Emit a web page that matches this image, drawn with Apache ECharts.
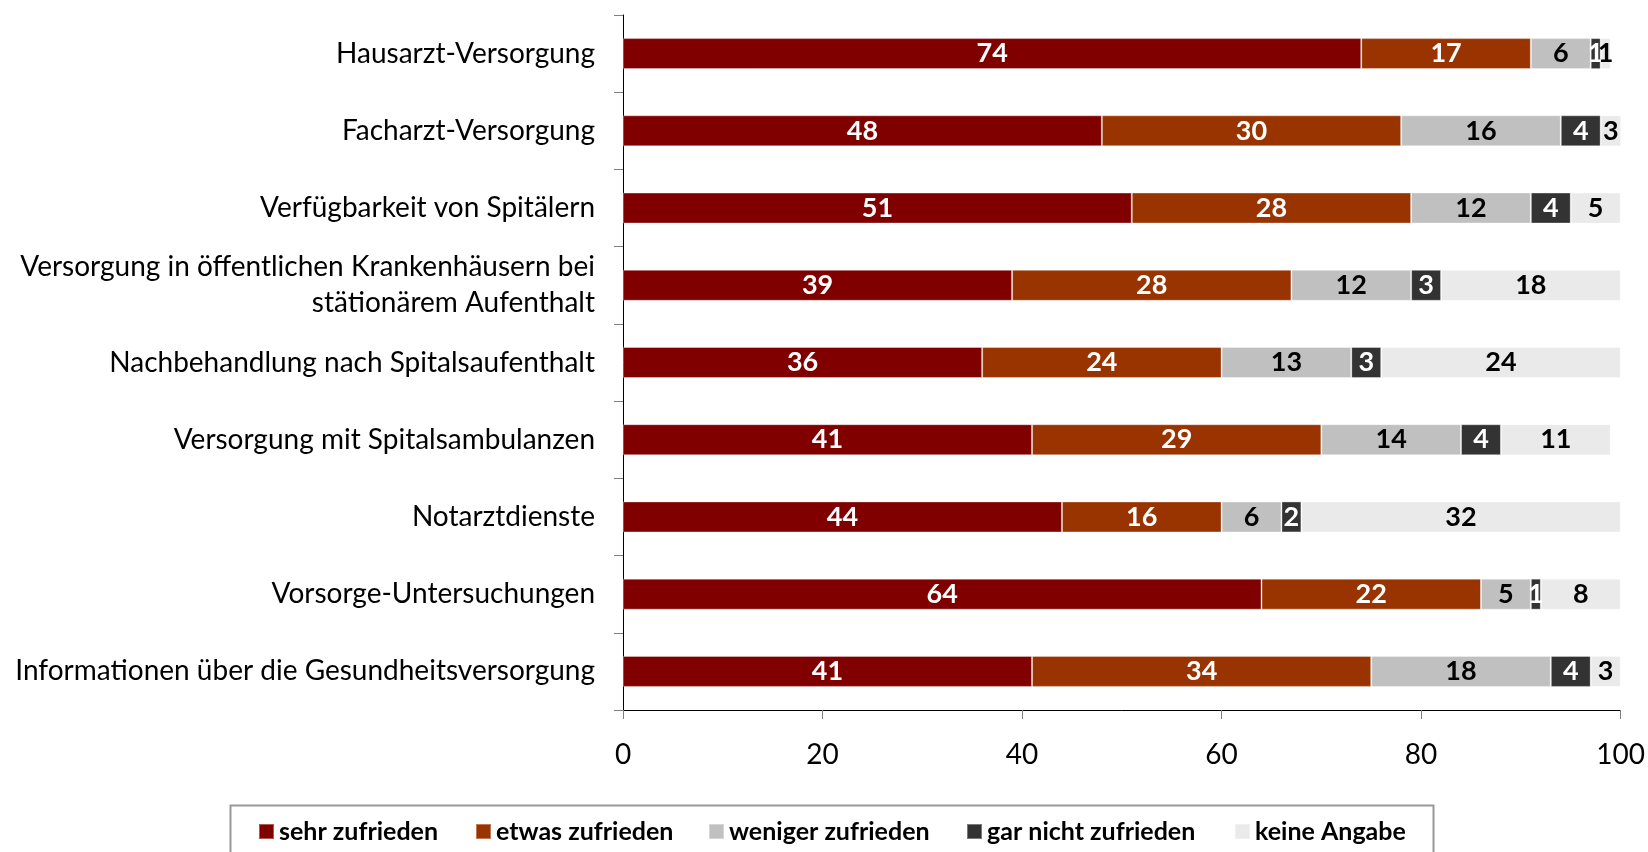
<!DOCTYPE html>
<html>
<head>
<meta charset="utf-8">
<script src="https://cdn.jsdelivr.net/npm/echarts@6/dist/echarts.min.js"></script>
<style>
  html, body { margin: 0; padding: 0; background: #fff; }
  #chart { width: 1648px; height: 852px; }
</style>
</head>
<body>
<div id="chart"></div>
<script>
// Kategorien (von oben nach unten)
const categories = [
  'Hausarzt-Versorgung',
  'Facharzt-Versorgung',
  'Verfügbarkeit von Spitälern',
  'Versorgung in öffentlichen Krankenhäusern bei\nstätionärem Aufenthalt',
  'Nachbehandlung nach Spitalsaufenthalt',
  'Versorgung mit Spitalsambulanzen',
  'Notarztdienste',
  'Vorsorge-Untersuchungen',
  'Informationen über die Gesundheitsversorgung'
]
const sehrZufrieden = [74, 48, 51, 39, 36, 41, 44, 64, 41]
const etwasZufrieden = [17, 30, 28, 28, 24, 29, 16, 22, 34]
const wenigerZufrieden = [6, 16, 12, 12, 13, 14, 6, 5, 18]
const garNichtZufrieden = [1, 4, 4, 3, 3, 4, 2, 1, 4]
const keineAngabe = [1, 3, 5, 18, 24, 11, 32, 8, 3]
const xTicks = [0, 20, 40, 60, 80, 100]

const seriesNames = ['sehr zufrieden', 'etwas zufrieden', 'weniger zufrieden', 'gar nicht zufrieden', 'keine Angabe']
const seriesData = [sehrZufrieden, etwasZufrieden, wenigerZufrieden, garNichtZufrieden, keineAngabe]
const colors = ['#800000', '#993300', '#C0C0C0', '#333333', '#EAEAEA']
const labelColors = ['#fff', '#fff', '#000', '#fff', '#000']
const legendLeft = [258, 475, 708, 966, 1234]

const chart = echarts.init(document.getElementById('chart'))

const option = {
  animation: false,
  textStyle: { fontFamily: 'Lato' },
  grid: { left: 623, top: 15, width: 1000, height: 695, containLabel: false },
  xAxis: {
    type: 'value',
    min: xTicks[0],
    max: xTicks[xTicks.length - 1],
    interval: 20,
    splitLine: { show: false },
    axisLine: { show: true, lineStyle: { color: '#000', width: 1 } },
    axisTick: { show: true, length: 9, lineStyle: { color: '#808080' } },
    axisLabel: { color: '#000', fontSize: 28, fontFamily: 'Lato', margin: 31 }
  },
  yAxis: {
    type: 'category',
    inverse: true,
    data: categories,
    axisLine: { show: true, lineStyle: { color: '#000', width: 1 } },
    axisTick: { show: true, length: 9, lineStyle: { color: '#808080' } },
    axisLabel: {
      color: '#000',
      fontSize: 28,
      fontFamily: 'Lato',
      margin: 28,
      align: 'right',
      lineHeight: 36
    }
  },
  legend: seriesNames.map((name, i) => ({
    data: [name],
    left: legendLeft[i],
    top: 819,
    padding: 0,
    itemGap: 0,
    itemWidth: 15,
    itemHeight: 15,
    icon: 'rect',
    textStyle: { color: '#000', fontSize: 25, fontWeight: 'bold', fontFamily: 'Lato' }
  })),
  graphic: [
    {
      type: 'rect',
      left: 228,
      top: 803,
      shape: { width: 1203, height: 70 },
      style: { fill: 'none', stroke: '#999', lineWidth: 2 },
      silent: true
    }
  ],
  series: seriesNames.map((name, i) => ({
    name: name,
    type: 'bar',
    stack: 'total',
    barWidth: 31,
    data: seriesData[i],
    itemStyle: {
      color: colors[i],
      borderColor: 'rgba(255,255,255,0.35)',
      borderWidth: 1
    },
    label: {
      show: true,
      position: 'inside',
      color: labelColors[i],
      fontSize: 27,
      fontWeight: 'bold',
      fontFamily: 'Lato'
    }
  }))
}

chart.setOption(option)
</script>
</body>
</html>
